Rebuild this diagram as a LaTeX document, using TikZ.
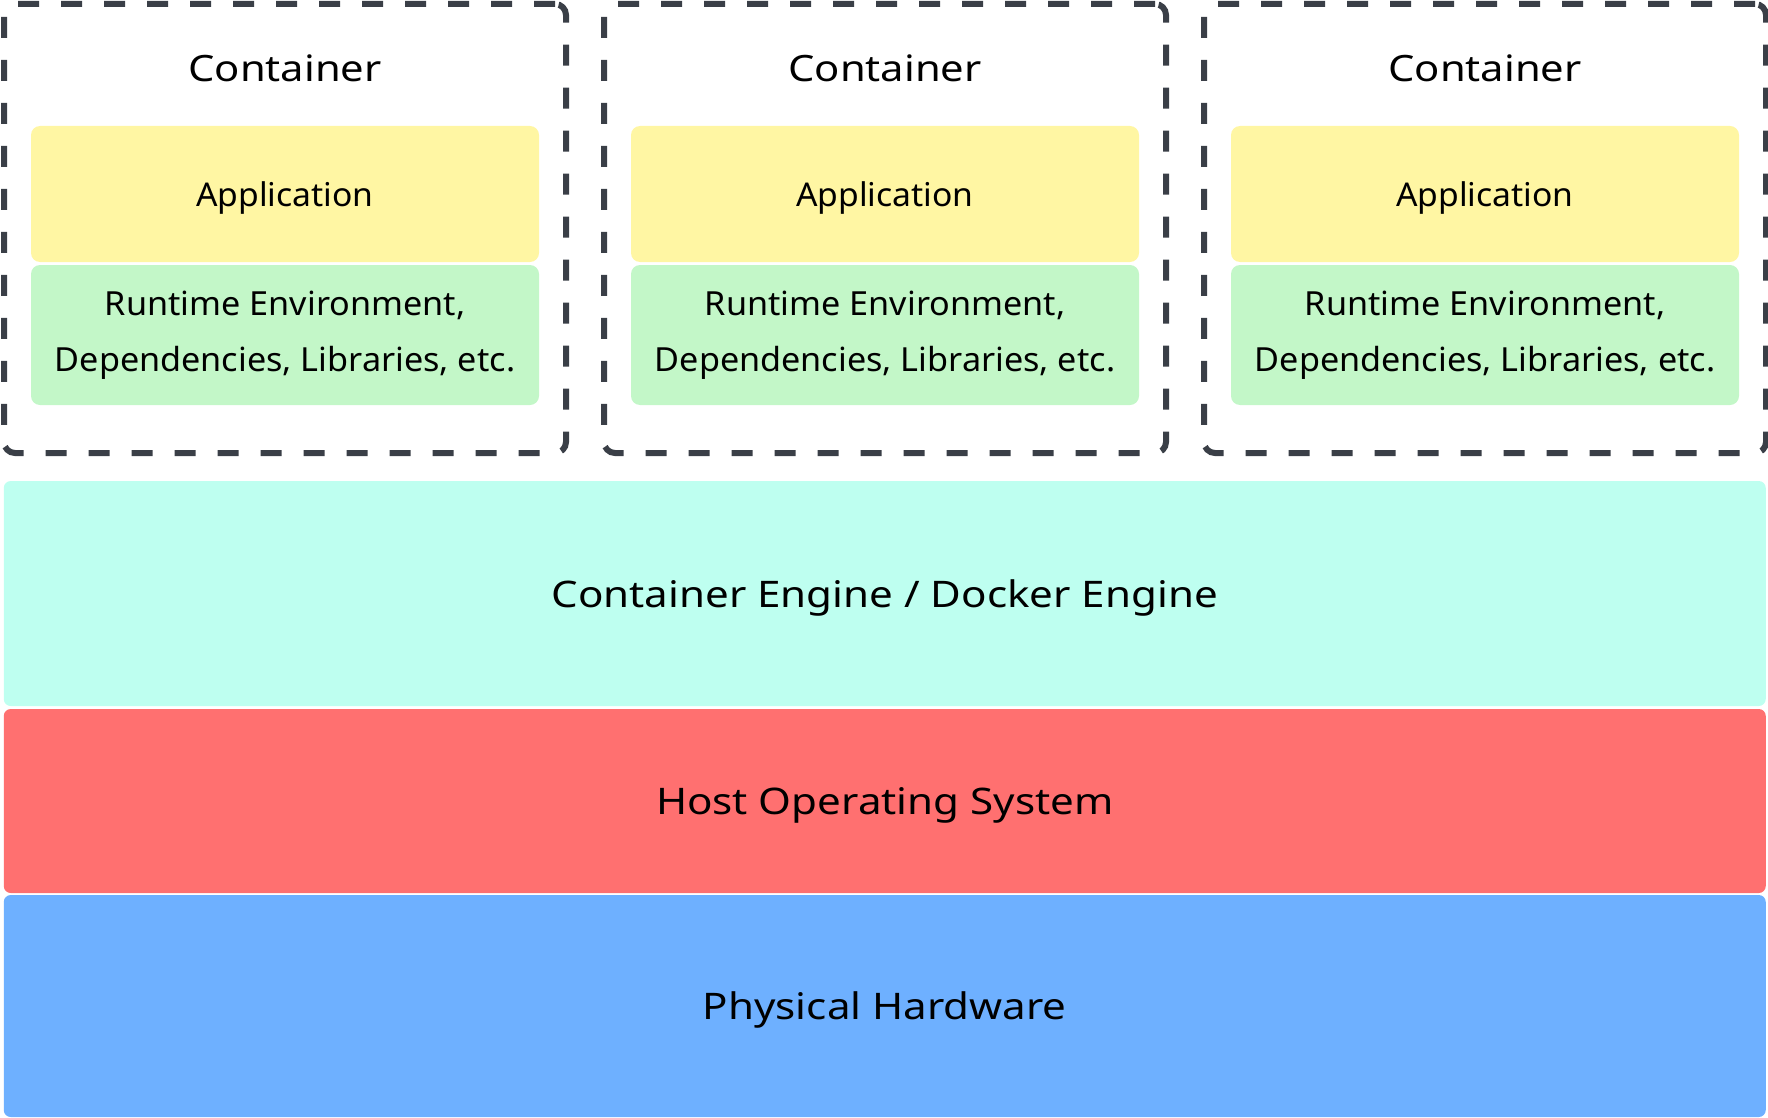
\documentclass[tikz,border=0pt]{standalone}
\usepackage{fontspec}
\setmainfont{Noto Sans}[FakeStretch=1.15]
\newfontfamily\boxfont{Noto Sans}[FakeStretch=1.03]
\usepackage{tikz}
\usetikzlibrary{positioning}
\definecolor{boxline}{HTML}{3A3F47}
\definecolor{appfill}{HTML}{FFF6A3}
\definecolor{libfill}{HTML}{C3F7C8}
\definecolor{enginefill}{HTML}{BEFFF0}
\definecolor{osfill}{HTML}{FF7070}
\definecolor{hwfill}{HTML}{6EB0FF}
\tikzset{>=stealth}

\begin{document}
\begin{tikzpicture}[x=1pt, y=-1pt,
        cbox/.style={draw=boxline, line width=6pt, dash pattern=on 21pt off 22pt, rounded corners=11pt, minimum width=562pt, minimum height=449pt, inner sep=0pt},
        inbox/.style={rounded corners=9pt, minimum width=508pt, inner sep=0pt},
        layer/.style={rounded corners=7pt, minimum width=1762pt, inner sep=0pt, text depth=0pt, font=\fontsize{36.6}{43}\selectfont}]
        \useasboundingbox (0,0) rectangle (1768,1118);
        \foreach \i/\x in {1/4, 2/604, 3/1204}
        {
            \node[cbox] (box\i) at (\x+281,228.5) {};
            \node[font=\fontsize{36.3}{44}\selectfont] (title\i) at (\x+281,68) {Container};
            \node[inbox, fill=appfill, minimum height=136pt, text depth=0pt, font=\boxfont\fontsize{32.7}{38}\selectfont] (app\i) at (\x+281,194) {Application};
            \node[inbox, fill=libfill, minimum height=140pt, align=center, font=\boxfont\fontsize{33.2}{56}\selectfont] (lib\i) at (\x+281,335) {Runtime Environment,\\Dependencies, Libraries, etc.};
        }
        \node[layer, fill=enginefill, minimum height=225pt] (engine) at (884.75,593.5) {Container Engine / Docker Engine};
        \node[layer, fill=osfill, minimum height=184pt] (os) at (884.75,801) {Host Operating System};
        \node[layer, fill=hwfill, minimum height=222pt] (hw) at (884.75,1006) {Physical Hardware};
    \end{tikzpicture}
\end{document}
